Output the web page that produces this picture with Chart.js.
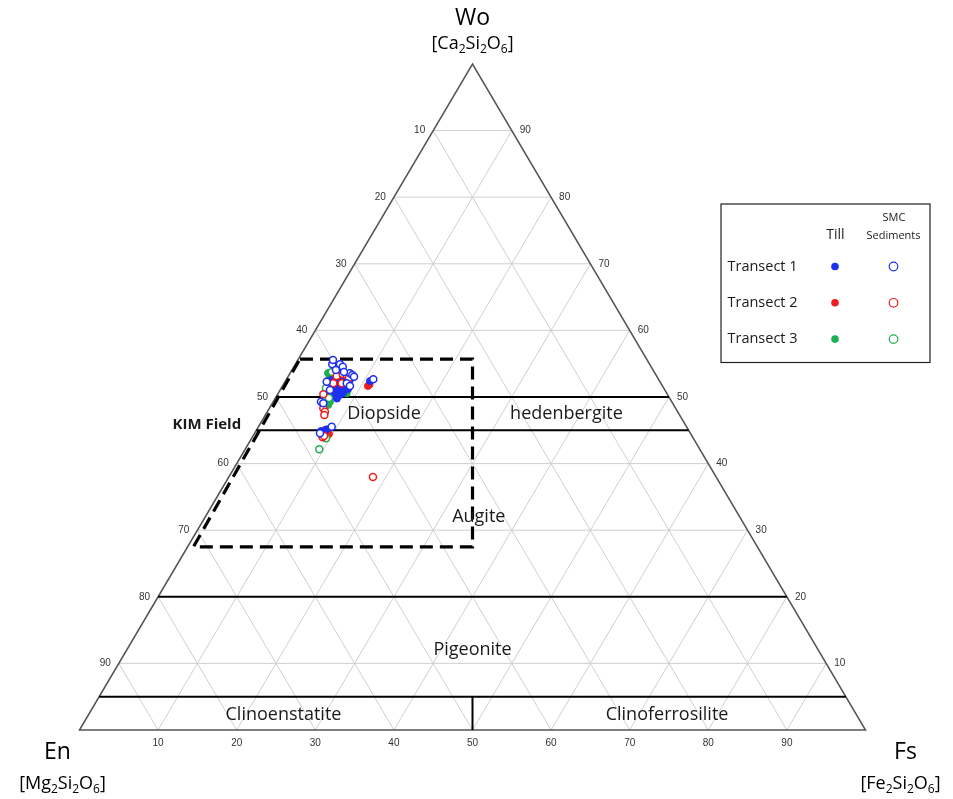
<!DOCTYPE html>
<html>
<head>
<meta charset="utf-8">
<script src="https://cdn.jsdelivr.net/npm/chart.js@4.4.0/dist/chart.umd.min.js"></script>
<style>
  html, body { margin: 0; padding: 0; background: #ffffff; }
  #wrap { width: 953px; height: 799px; }
</style>
</head>
<body>
<div id="wrap"><canvas id="c" width="953" height="799"></canvas></div>
<script>
// Pyroxene compositions in mol %: Wo and Fs given, En = 100 - Wo - Fs.

// Transect 1 — till (filled) and SMC sediments (open)
const t1TillWo = [52.85, 52.25, 52.55, 51.65, 51.05, 50.60, 50.45, 50.00, 51.20, 53.75, 53.30, 49.77, 52.40, 44.89, 44.74, 45.15, 52.10, 52.55, 51.80, 51.65, 50.75, 50.30, 53.15, 52.55];
const t1TillFs = [6.08, 7.01, 7.50, 6.29, 7.36, 8.22, 6.51, 7.63, 8.56, 5.50, 6.62, 7.87, 10.76, 8.28, 8.74, 8.87, 7.98, 5.72, 6.99, 7.82, 6.87, 7.99, 7.20, 8.13];
const t1SmcWo = [54.91, 54.91, 54.55, 53.56, 53.30, 53.05, 52.30, 52.06, 51.65, 49.29, 49.05, 45.54, 44.55, 52.66, 54.05, 51.05, 55.56, 53.75];
const t1SmcFs = [4.70, 5.69, 6.22, 7.63, 8.06, 8.40, 5.30, 7.97, 8.58, 6.08, 6.49, 9.32, 8.32, 11.05, 5.60, 6.34, 4.47, 6.77];

// Transect 2
const t2TillWo = [51.65, 51.88, 51.46, 45.05, 53.30, 52.25, 51.35, 44.44];
const t2TillFs = [10.87, 10.96, 7.32, 8.71, 5.98, 6.12, 7.72, 9.52];
const t2SmcWo = [53.15, 53.45, 52.06, 52.06, 53.30, 50.41, 48.30, 47.79, 47.30, 43.95, 44.14, 37.99, 52.85];
const t2SmcFs = [6.14, 6.76, 6.26, 7.33, 7.35, 5.82, 6.87, 7.33, 7.50, 8.96, 9.04, 18.34, 7.86];

// Transect 3
const t3TillWo = [54.16, 52.81, 52.06, 51.05, 50.56, 49.29, 48.80, 50.30, 53.60];
const t3TillFs = [5.43, 5.37, 6.06, 5.92, 8.72, 7.22, 7.25, 6.85, 4.82];
const t3SmcWo = [54.40, 51.35, 43.80, 42.15, 53.75, 49.85];
const t3SmcFs = [5.52, 5.68, 9.46, 9.43, 5.24, 6.81];

// Diagram furniture
const tickValues = [10, 20, 30, 40, 50, 60, 70, 80, 90];
const fieldWoLevels = [50, 45, 20, 5];          // solid boundaries of constant Wo
const kimFieldWo = [27.5, 55.7];                 // KIM field Wo range (dashed box)
const fieldNames = ['Diopside', 'hedenbergite', 'Augite', 'Pigeonite', 'Clinoenstatite', 'Clinoferrosilite'];
const fieldAnchors = [[47.5, 15.0], [47.5, 38.2], [32, 34.8], [12, 44], [2.3, 24.8], [2.3, 73.6]]; // [Wo, Fs] of label centres

const BLUE = '#1d2ff0', RED = '#f01e1e', GREEN = '#1fae52';
const FONT = '"Open Sans", Lato, sans-serif';

// Ternary (Wo, Fs) -> cartesian plot coordinates
function tern(woArr, fsArr) {
  return woArr.map((wo, i) => ({ x: fsArr[i] + wo / 2, y: wo }));
}

function filledSet(label, wo, fs, color) {
  return { label, data: tern(wo, fs), backgroundColor: color, borderColor: color,
           pointRadius: 3.5, pointBorderWidth: 1, order: 1 };
}
function openSet(label, wo, fs, color) {
  return { label, data: tern(wo, fs), backgroundColor: '#ffffff', borderColor: color,
           pointRadius: 3.5, pointBorderWidth: 1.5, order: 0 };
}

// Draw text with numeric subscripts, e.g. [Ca2Si2O6]
function drawFormula(ctx, parts, cx, cy, size) {
  const base = size + 'px ' + FONT;
  const sub = Math.round(size * 0.66) + 'px ' + FONT;
  let total = 0;
  parts.forEach(p => { ctx.font = p[1] ? sub : base; total += ctx.measureText(p[0]).width; });
  let xx = cx - total / 2;
  ctx.textAlign = 'left';
  ctx.textBaseline = 'middle';
  parts.forEach(p => {
    ctx.font = p[1] ? sub : base;
    ctx.fillText(p[0], xx, cy + (p[1] ? size * 0.32 : 0));
    xx += ctx.measureText(p[0]).width;
  });
}

const ternaryPlugin = {
  id: 'ternaryFrame',
  beforeDatasetsDraw(chart) {
    const { ctx, scales: { x, y } } = chart;
    const P = (wo, fs) => [x.getPixelForValue(fs + wo / 2), y.getPixelForValue(wo)];
    const line = (a, b) => { ctx.beginPath(); ctx.moveTo(a[0], a[1]); ctx.lineTo(b[0], b[1]); ctx.stroke(); };

    ctx.save();
    // light 10 % grid
    ctx.strokeStyle = '#cfcfcf';
    ctx.lineWidth = 1;
    tickValues.forEach(k => {
      line(P(k, 0), P(k, 100 - k));            // constant Wo
      line(P(0, k), P(100 - k, k));            // constant Fs
      line(P(0, 100 - k), P(100 - k, 0));      // constant En
    });

    // outer triangle
    const en = P(0, 0), fs = P(0, 100), wo = P(100, 0);
    ctx.strokeStyle = '#555555';
    ctx.lineWidth = 1.5;
    ctx.beginPath();
    ctx.moveTo(en[0], en[1]); ctx.lineTo(wo[0], wo[1]); ctx.lineTo(fs[0], fs[1]); ctx.closePath();
    ctx.stroke();

    // field boundaries
    ctx.strokeStyle = '#000000';
    ctx.lineWidth = 2;
    fieldWoLevels.forEach(w => line(P(w, 0), P(w, 100 - w)));
    line(P(0, 50), P(5, 47.5));

    // KIM field (dashed)
    ctx.lineWidth = 3.2;
    ctx.setLineDash([13, 7]);
    ctx.beginPath();
    const topLeft = [x.getPixelForValue(kimFieldWo[1] / 2 + 0.2), y.getPixelForValue(kimFieldWo[1])];
    const topRight = [x.getPixelForValue(50), y.getPixelForValue(kimFieldWo[1])];
    const botRight = [x.getPixelForValue(50), y.getPixelForValue(kimFieldWo[0])];
    const botLeft = [x.getPixelForValue(kimFieldWo[0] / 2 + 0.75), y.getPixelForValue(kimFieldWo[0])];
    ctx.moveTo(topLeft[0], topLeft[1]);
    ctx.lineTo(topRight[0], topRight[1]);
    ctx.lineTo(botRight[0], botRight[1]);
    ctx.lineTo(botLeft[0], botLeft[1]);
    ctx.closePath();
    ctx.stroke();
    ctx.setLineDash([]);

    // tick labels
    ctx.fillStyle = '#333333';
    ctx.font = '10px "Liberation Sans", Arial, sans-serif';
    ctx.textBaseline = 'middle';
    tickValues.forEach(k => {
      const l = P(100 - k, 0);                 // left edge, En = k
      ctx.textAlign = 'right';
      ctx.fillText(String(k), l[0] - 8, l[1]);
      const r = P(k, 100 - k);                 // right edge, Wo = k
      ctx.textAlign = 'left';
      ctx.fillText(String(k), r[0] + 8, r[1]);
      const bt = P(0, k);                      // bottom edge, Fs = k
      ctx.textAlign = 'center';
      ctx.fillText(String(k), bt[0], bt[1] + 13);
    });

    // field names
    ctx.fillStyle = '#1a1a1a';
    ctx.font = '18px ' + FONT;
    ctx.textAlign = 'center';
    fieldNames.forEach((n, i) => {
      const p = P(fieldAnchors[i][0], fieldAnchors[i][1]);
      ctx.fillText(n, p[0], p[1]);
    });
    ctx.font = 'bold 15px ' + FONT;
    const kl = P(45.8, -6.7);
    ctx.fillText('KIM Field', kl[0], kl[1]);

    // end-member labels
    ctx.fillStyle = '#000000';
    ctx.font = '23px ' + FONT;
    ctx.fillText('Wo', wo[0], wo[1] - 46);
    ctx.fillText('En', en[0] - 22, en[1] + 22);
    ctx.fillText('Fs', fs[0] + 40, fs[1] + 22);
    drawFormula(ctx, [['[Ca', 0], ['2', 1], ['Si', 0], ['2', 1], ['O', 0], ['6', 1], [']', 0]], wo[0], wo[1] - 20, 18);
    drawFormula(ctx, [['[Mg', 0], ['2', 1], ['Si', 0], ['2', 1], ['O', 0], ['6', 1], [']', 0]], en[0] - 17, en[1] + 54, 18);
    drawFormula(ctx, [['[Fe', 0], ['2', 1], ['Si', 0], ['2', 1], ['O', 0], ['6', 1], [']', 0]], fs[0] + 35, fs[1] + 54, 18);

    // legend
    ctx.strokeStyle = '#222222';
    ctx.lineWidth = 1.2;
    ctx.strokeRect(721, 204, 209, 158.5);
    ctx.fillStyle = '#1a1a1a';
    ctx.textAlign = 'center';
    ctx.font = '14px ' + FONT;
    ctx.fillText('Till', 835.5, 235);
    ctx.font = '11px ' + FONT;
    ctx.fillText('SMC', 894, 218);
    ctx.fillText('Sediments', 893.5, 236);
    const rows = [['Transect 1', BLUE], ['Transect 2', RED], ['Transect 3', GREEN]];
    rows.forEach((r, i) => {
      const ry = 266.5 + i * 36.3;
      ctx.fillStyle = '#1a1a1a';
      ctx.font = '14.5px ' + FONT;
      ctx.textAlign = 'left';
      ctx.fillText(r[0], 727.5, ry);
      ctx.fillStyle = r[1];
      ctx.beginPath(); ctx.arc(835, ry, 3.8, 0, Math.PI * 2); ctx.fill();
      ctx.strokeStyle = r[1];
      ctx.lineWidth = 1.2;
      ctx.beginPath(); ctx.arc(893.5, ry, 4.3, 0, Math.PI * 2); ctx.stroke();
    });
    ctx.restore();
  }
};

new Chart(document.getElementById('c'), {
  type: 'scatter',
  data: {
    datasets: [
      openSet('Transect 1 SMC sediments', t1SmcWo, t1SmcFs, BLUE),
      openSet('Transect 2 SMC sediments', t2SmcWo, t2SmcFs, RED),
      openSet('Transect 3 SMC sediments', t3SmcWo, t3SmcFs, GREEN),
      filledSet('Transect 1 till', t1TillWo, t1TillFs, BLUE),
      filledSet('Transect 2 till', t2TillWo, t2TillFs, RED),
      filledSet('Transect 3 till', t3TillWo, t3TillFs, GREEN)
    ]
  },
  options: {
    responsive: false,
    animation: false,
    layout: { padding: { left: 79.5, right: 87.5, top: 64, bottom: 69 } },
    scales: {
      x: { type: 'linear', min: 0, max: 100, display: false },
      y: { type: 'linear', min: 0, max: 100, display: false }
    },
    plugins: { legend: { display: false }, tooltip: { enabled: false } }
  },
  plugins: [ternaryPlugin]
});
</script>
</body>
</html>
